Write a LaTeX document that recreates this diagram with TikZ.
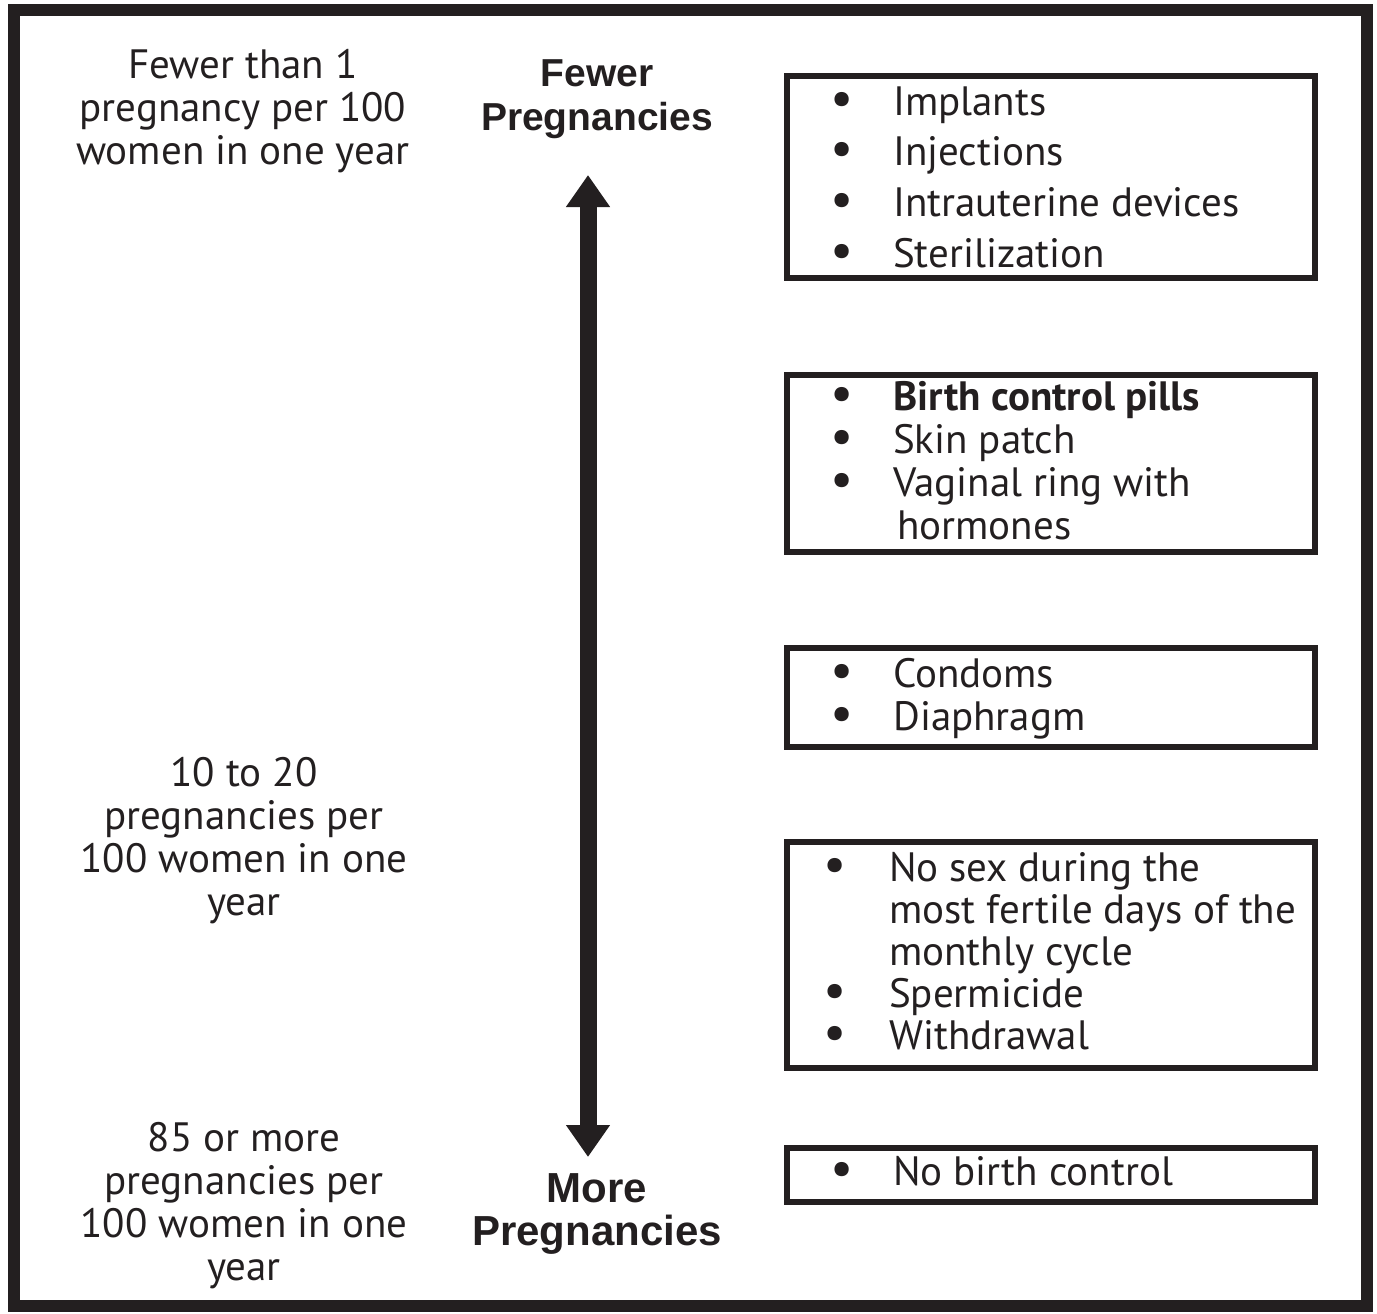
\documentclass[tikz,border=0pt]{standalone}
\usepackage{fontspec}
\setmainfont{PT Sans}
\newfontfamily\headfont{Liberation Sans}
\usetikzlibrary{arrows.meta}
\definecolor{ink}{HTML}{231F20}
\newcommand{\bul}{\smash{\scalebox{1.25}{\textbullet}}}
\begin{document}
\begin{tikzpicture}[x=1pt,y=-1pt,
  rate/.style={font=\fontsize{41}{43}\selectfont, align=center, inner sep=0, anchor=base, text=ink},
  headtop/.style={font=\headfont\bfseries\fontsize{39}{44}\selectfont, align=center, inner sep=0, anchor=base, text=ink},
  headbot/.style={font=\headfont\bfseries\fontsize{42}{43}\selectfont, align=center, inner sep=0, anchor=base, text=ink},
  methodbox/.style={draw=ink, line width=6pt, anchor=north west, inner sep=0, minimum width=528pt},
  items/.style={inner sep=0, anchor=base west, text=ink, font=\fontsize{41}{43}\selectfont},
  bigarrow/.style={draw=ink, line width=17pt, {Triangle[length=32pt,width=42pt]}-{Triangle[length=32pt,width=42pt]}}
]
\useasboundingbox (0,0) rectangle (1377,1314);
% outer frame
\draw[ink, line width=12pt] (14,10) rectangle (1367,1306);

% left column (anchor base = baseline of last line)
\node[rate] (r1) at (243,164) {Fewer than 1\\pregnancy per 100\\women in one year};
\node[rate] (r2) at (244,915) {10 to 20\\pregnancies per\\100 women in one\\year};
\node[rate] (r3) at (244,1280) {85 or more\\pregnancies per\\100 women in one\\year};

% headings
\node[headtop] (fewer) at (597,131) {Fewer\\Pregnancies};
\node[headbot] (more) at (597,1245) {More\\Pregnancies};

% arrow
\coordinate (atop) at (588,175);
\coordinate (abot) at (588,1157);
\draw[bigarrow] (atop) -- (abot);

% boxes
\node[methodbox, minimum height=202pt] (b1) at (784,73) {};
\node[methodbox, minimum height=177.5pt] (b2) at (784,371.5) {};
\node[methodbox, minimum height=99pt] (b3) at (784,645) {};
\node[methodbox, minimum height=226pt] (b4) at (784,839) {};
\node[methodbox, minimum height=54pt] (b5) at (784,1145) {};

% box texts
\node[items, font=\fontsize{41}{50.7}\selectfont] (t1) at (830,115) {\begin{tabular}[t]{@{}p{63pt}@{}l@{}}
\bul & Implants\\
\bul & Injections\\
\bul & Intrauterine devices\\
\bul & Sterilization
\end{tabular}};
\node[items] (t2) at (830,410) {\begin{tabular}[t]{@{}p{63pt}@{}l@{}}
\bul & \textbf{Birth control pills}\\
\bul & Skin patch\\
\bul & Vaginal ring with\\
 & \hspace{4pt}hormones
\end{tabular}};
\node[items] (t3) at (830,687) {\begin{tabular}[t]{@{}p{63pt}@{}l@{}}
\bul & Condoms\\
\bul & Diaphragm
\end{tabular}};
\node[items, font=\fontsize{41}{42}\selectfont] (t4) at (823,881) {\begin{tabular}[t]{@{}p{66pt}@{}l@{}}
\bul & No sex during the\\
 & most fertile days of the\\
 & monthly cycle\\
\bul & Spermicide\\
\bul & Withdrawal
\end{tabular}};
\node[items] (t5) at (830,1185) {\begin{tabular}[t]{@{}p{63pt}@{}l@{}}
\bul & No birth control
\end{tabular}};
\end{tikzpicture}
\end{document}
